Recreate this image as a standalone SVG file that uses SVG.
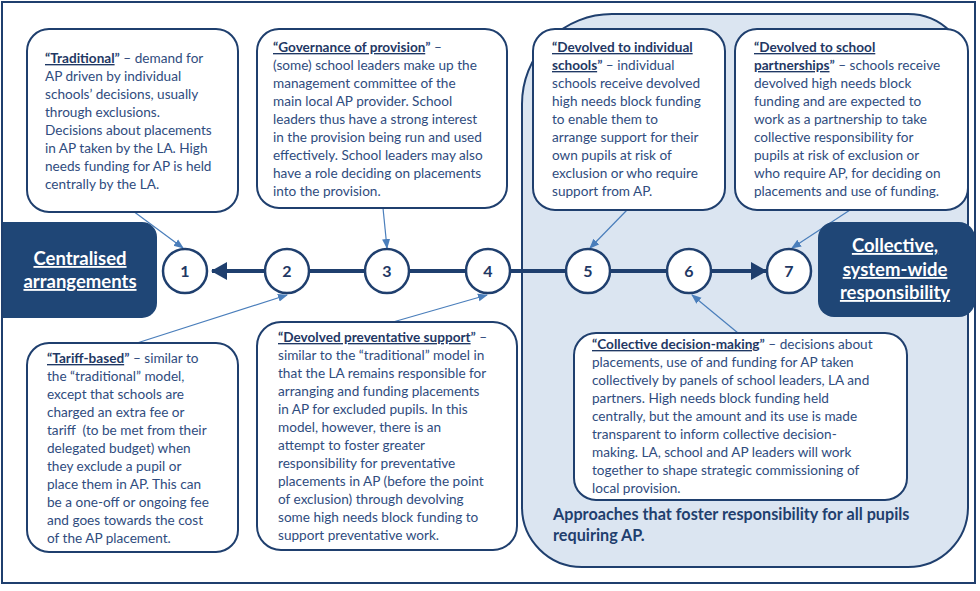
<svg xmlns="http://www.w3.org/2000/svg" width="980" height="591" viewBox="0 0 980 591">
<defs>
<marker id="thin" markerUnits="userSpaceOnUse" markerWidth="10" markerHeight="10" viewBox="0 0 10 10" refX="9" refY="5" orient="auto">
<path d="M0,1 L10,5 L0,9 Z" fill="#4a7ebb"/>
</marker>
<marker id="thick" markerUnits="userSpaceOnUse" markerWidth="16" markerHeight="18" viewBox="0 0 16 18" refX="15" refY="9" orient="auto-start-reverse">
<path d="M0,0 L16,9 L0,18 Z" fill="#1f3f6e"/>
</marker>
</defs>
<style>
.frame{fill:#ffffff;stroke:#1f3f6e;stroke-width:2}
.region{fill:#dbe5f1;stroke:#1f3f6e;stroke-width:2}
.box{fill:#ffffff;stroke:#1f3f6e;stroke-width:2}
.dark{fill:#1f4676;stroke:none}
.circ{fill:#ffffff;stroke:#1f3f6e;stroke-width:2.5}
.t{font-family:Lato,"Liberation Sans",sans-serif;font-size:13.6px;fill:#2f4c7e}
.h{font-weight:bold;text-decoration:underline;fill:#1f3864}
.num{font-family:Lato,"Liberation Sans",sans-serif;font-size:16px;font-weight:bold;fill:#1f3864;text-anchor:middle}
.big{font-family:Lato,"Liberation Sans",sans-serif;font-size:18.5px;font-weight:bold;fill:#ffffff;text-anchor:middle;text-decoration:underline}
.cap{font-family:Lato,"Liberation Sans",sans-serif;font-size:16.2px;font-weight:bold;fill:#1f3f6e}
.conn{stroke:#4a7ebb;stroke-width:1.2;fill:none}
.main{stroke:#1f3f6e;stroke-width:4;fill:none}
</style>
<rect class="frame" x="2" y="2" width="973" height="581"/>
<g id="region-collective">
<path class="region" d="M612,14 H908 A60,60 0 0 1 968,74 V507 A60,60 0 0 1 908,567 H582 A60,60 0 0 1 522,507 V104 A90,90 0 0 1 612,14 Z"/>
<text class="cap" x="553" y="520">Approaches that foster responsibility for all pupils</text>
<text class="cap" x="553" y="541">requiring AP.</text>
</g>
<g id="connectors">
<line class="main" x1="212" y1="271" x2="766" y2="271" marker-start="url(#thick)" marker-end="url(#thick)"/>
<line class="conn" x1="133" y1="211" x2="183" y2="248" marker-end="url(#thin)"/>
<line class="conn" x1="383" y1="208" x2="387" y2="248" marker-end="url(#thin)"/>
<line class="conn" x1="627" y1="210" x2="590" y2="248" marker-end="url(#thin)"/>
<line class="conn" x1="850" y1="210" x2="792" y2="248" marker-end="url(#thin)"/>
<line class="conn" x1="137" y1="343" x2="287" y2="295" marker-end="url(#thin)"/>
<line class="conn" x1="393" y1="322" x2="487" y2="295" marker-end="url(#thin)"/>
<line class="conn" x1="738" y1="333" x2="692" y2="295" marker-end="url(#thin)"/>
</g>
<g id="centralised">
<path class="dark" d="M3,222 H142 A15,15 0 0 1 157,237 V303 A15,15 0 0 1 142,318 H3 Z"/>
<text class="big" x="80" y="265">Centralised</text>
<text class="big" x="80" y="288">arrangements</text>
</g>
<g id="collective">
<rect class="dark" x="818" y="222" width="157" height="95" rx="16"/>
<text class="big" x="895" y="252">Collective,</text>
<text class="big" x="895" y="276">system-wide</text>
<text class="big" x="895" y="299">responsibility</text>
</g>
<g id="n1"><circle class="circ" cx="185" cy="271" r="22"/><text class="num" x="185" y="277">1</text></g>
<g id="n2"><circle class="circ" cx="287" cy="271" r="22"/><text class="num" x="287" y="277">2</text></g>
<g id="n3"><circle class="circ" cx="387" cy="271" r="22"/><text class="num" x="387" y="277">3</text></g>
<g id="n4"><circle class="circ" cx="488" cy="271" r="22"/><text class="num" x="488" y="277">4</text></g>
<g id="n5"><circle class="circ" cx="588" cy="271" r="22"/><text class="num" x="588" y="277">5</text></g>
<g id="n6"><circle class="circ" cx="689" cy="271" r="22"/><text class="num" x="689" y="277">6</text></g>
<g id="n7"><circle class="circ" cx="789" cy="271" r="22"/><text class="num" x="789" y="277">7</text></g>
<g id="traditional">
<rect class="box" x="27" y="29" width="211" height="183" rx="22"/>
<text class="t" x="45" y="63"><tspan class="h">“Traditional</tspan><tspan font-weight="bold">”</tspan> – demand for</text>
<text class="t" x="45" y="81">AP driven by individual</text>
<text class="t" x="45" y="99">schools’ decisions, usually</text>
<text class="t" x="45" y="117">through exclusions.</text>
<text class="t" x="45" y="135">Decisions about placements</text>
<text class="t" x="45" y="153">in AP taken by the LA. High</text>
<text class="t" x="45" y="171">needs funding for AP is held</text>
<text class="t" x="45" y="189">centrally by the LA.</text>
</g>
<g id="governance">
<rect class="box" x="257" y="29" width="250" height="179" rx="22"/>
<text class="t" x="273" y="52"><tspan class="h">“Governance of provision</tspan><tspan font-weight="bold">”</tspan> –</text>
<text class="t" x="273" y="70">(some) school leaders make up the</text>
<text class="t" x="273" y="88">management committee of the</text>
<text class="t" x="273" y="106">main local AP provider. School</text>
<text class="t" x="273" y="124">leaders thus have a strong interest</text>
<text class="t" x="273" y="142">in the provision being run and used</text>
<text class="t" x="273" y="160">effectively. School leaders may also</text>
<text class="t" x="273" y="178">have a role deciding on placements</text>
<text class="t" x="273" y="196">into the provision.</text>
</g>
<g id="devolved-schools">
<rect class="box" x="533" y="29" width="192" height="181" rx="22"/>
<text class="t" x="552" y="52"><tspan class="h">“Devolved to individual</tspan></text>
<text class="t" x="552" y="70"><tspan class="h">schools</tspan><tspan font-weight="bold">”</tspan> – individual</text>
<text class="t" x="552" y="88">schools receive devolved</text>
<text class="t" x="552" y="106">high needs block funding</text>
<text class="t" x="552" y="124">to enable them to</text>
<text class="t" x="552" y="142">arrange support for their</text>
<text class="t" x="552" y="160">own pupils at risk of</text>
<text class="t" x="552" y="178">exclusion or who require</text>
<text class="t" x="552" y="196">support from AP.</text>
</g>
<g id="devolved-partnerships">
<rect class="box" x="735" y="29" width="233" height="181" rx="22"/>
<text class="t" x="754" y="52"><tspan class="h">“Devolved to school</tspan></text>
<text class="t" x="754" y="70"><tspan class="h">partnerships</tspan><tspan font-weight="bold">”</tspan> – schools receive</text>
<text class="t" x="754" y="88">devolved high needs block</text>
<text class="t" x="754" y="106">funding and are expected to</text>
<text class="t" x="754" y="124">work as a partnership to take</text>
<text class="t" x="754" y="142">collective responsibility for</text>
<text class="t" x="754" y="160">pupils at risk of exclusion or</text>
<text class="t" x="754" y="178">who require AP, for deciding on</text>
<text class="t" x="754" y="196">placements and use of funding.</text>
</g>
<g id="tariff">
<rect class="box" x="27" y="343" width="211" height="209" rx="22"/>
<text class="t" x="47" y="363"><tspan class="h">“Tariff-based</tspan><tspan font-weight="bold">”</tspan> – similar to</text>
<text class="t" x="47" y="381">the “traditional” model,</text>
<text class="t" x="47" y="399">except that schools are</text>
<text class="t" x="47" y="417">charged an extra fee or</text>
<text class="t" x="47" y="435" xml:space="preserve">tariff  (to be met from their</text>
<text class="t" x="47" y="453">delegated budget) when</text>
<text class="t" x="47" y="471">they exclude a pupil or</text>
<text class="t" x="47" y="489">place them in AP. This can</text>
<text class="t" x="47" y="507">be a one-off or ongoing fee</text>
<text class="t" x="47" y="525">and goes towards the cost</text>
<text class="t" x="47" y="543">of the AP placement.</text>
</g>
<g id="preventative">
<rect class="box" x="257" y="322" width="260" height="228" rx="24"/>
<text class="t" x="278" y="342"><tspan class="h">“Devolved preventative support</tspan><tspan font-weight="bold">”</tspan> –</text>
<text class="t" x="278" y="360">similar to the “traditional” model in</text>
<text class="t" x="278" y="378">that the LA remains responsible for</text>
<text class="t" x="278" y="396">arranging and funding placements</text>
<text class="t" x="278" y="414">in AP for excluded pupils. In this</text>
<text class="t" x="278" y="432">model, however, there is an</text>
<text class="t" x="278" y="450">attempt to foster greater</text>
<text class="t" x="278" y="468">responsibility for preventative</text>
<text class="t" x="278" y="486">placements in AP (before the point</text>
<text class="t" x="278" y="504">of exclusion) through devolving</text>
<text class="t" x="278" y="522">some high needs block funding to</text>
<text class="t" x="278" y="540">support preventative work.</text>
</g>
<g id="collective-decision">
<rect class="box" x="574" y="333" width="333" height="167" rx="22"/>
<text class="t" x="592" y="349"><tspan class="h">“Collective decision-making</tspan><tspan font-weight="bold">”</tspan> – decisions about</text>
<text class="t" x="592" y="367">placements, use of and funding for AP taken</text>
<text class="t" x="592" y="385">collectively by panels of school leaders, LA and</text>
<text class="t" x="592" y="403">partners. High needs block funding held</text>
<text class="t" x="592" y="421">centrally, but the amount and its use is made</text>
<text class="t" x="592" y="439">transparent to inform collective decision-</text>
<text class="t" x="592" y="457">making. LA, school and AP leaders will work</text>
<text class="t" x="592" y="475">together to shape strategic commissioning of</text>
<text class="t" x="592" y="493">local provision.</text>
</g>
</svg>
